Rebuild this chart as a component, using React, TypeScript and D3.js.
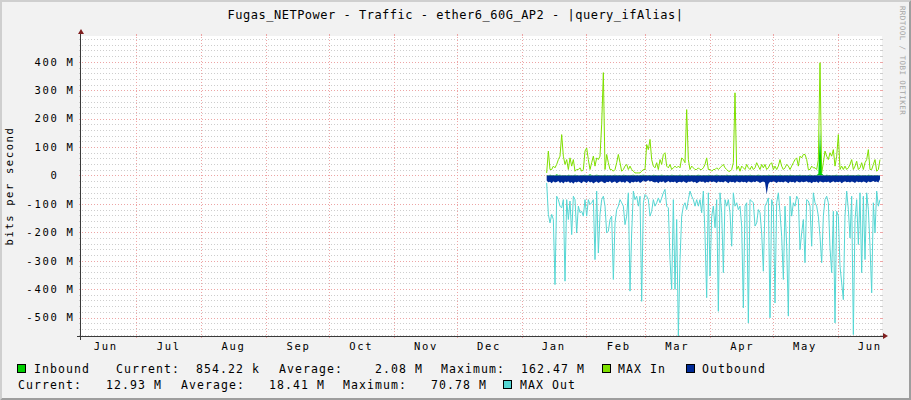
import React from "react";
import * as d3 from "d3";

// ---------------- chart text ----------------
const titleText = "Fugas_NETPower - Traffic - ether6_60G_AP2 - |query_ifAlias|";
const unitLabel = "bits per second";
const watermark = "RRDTOOL / TOBI OETIKER";

// month tick labels (first visible month .. last visible month)
const monthLabels = ["Jun", "Jul", "Aug", "Sep", "Oct", "Nov", "Dec", "Jan", "Feb", "Mar", "Apr", "May", "Jun"];

// y axis ticks (in M bits/s) and their labels
const yTickValues = [400, 300, 200, 100, 0, -100, -200, -300, -400, -500];
const yTickLabels = ["400 M", "300 M", "200 M", "100 M", "0  ", "-100 M", "-200 M", "-300 M", "-400 M", "-500 M"];

// legend rows
const legendRow1 = [
  { swatch: "#00CF00", text: "Inbound" },
  { text: "Current:  854.22 k" },
  { text: "Average:    2.08 M" },
  { text: "Maximum:  162.47 M" },
  { swatch: "#7FE000", text: "MAX In" },
  { swatch: "#002A97", text: "Outbound" },
];
const legendRow2 = [
  { text: "Current:   12.93 M" },
  { text: "Average:   18.41 M" },
  { text: "Maximum:   70.78 M" },
  { swatch: "#55D6D3", text: "MAX Out" },
];

// ---------------- series (M bits/s, evenly sampled) ----------------
const maxIn = [
  9, 86, 21, 21, 33, 27, 39, 56, 68, 144,
  68, 39, 56, 21, 62, 33, 56, 15, 21, 21,
  27, 15, 21, 86, 97, 56, 21, 45, 68, 33,
  62, 56, 68, 180, 362, 21, 74, 45, 21, 21,
  15, 21, 45, 74, 45, 15, 21, 33, 39, 21,
  33, 21, 15, 9, 9, 9, 9, 15, 21, 21,
  109, 91, 127, 56, 33, 27, 45, 21, 56, 39,
  74, 80, 33, 27, 39, 21, 27, 33, 27, 33,
  27, 62, 56, 45, 232, 56, 21, 33, 27, 21,
  21, 27, 21, 21, 27, 39, 62, 21, 21, 15,
  21, 21, 27, 21, 27, 33, 39, 27, 21, 15,
  15,
  21, 45, 291, 21, 33, 15, 33, 27, 21, 39,
  27, 21, 33, 21, 27, 45, 33, 21, 39, 27,
  39, 21, 27, 39, 45, 21, 33, 21, 33, 56,
  33, 21, 27, 39, 33, 21, 33, 45, 56, 62,
  33, 68, 62, 74, 74, 56, 21, 21, 33, 27,
  27, 21, 56, 397, 9, 45, 86, 68, 56, 80,
  68, 91, 33, 68, 144, 21, 33, 21, 33, 21,
  27, 39, 56, 21, 33, 50, 21, 27, 45, 21,
  45, 56, 91, 21, 21, 39, 56, 15, 21, 56,
];

const maxOut = [
  26, 137, 167, 137, 155, 384, 73, 85, 108, 114,
  85, 372, 85, 155, 90, 208, 73, 85, 202, 108,
  131, 126, 143, 85, 143, 85, 102, 96, 85, 296,
  55, 273, 137, 85, 73, 108, 202, 196, 155, 143,
  366, 167, 120, 108, 85, 96, 108, 173, 143, 61,
  407, 202, 55, 85, 73, 108, 73, 443, 96, 67,
  73, 85, 143, 126, 85, 108, 96, 79, 96, 79,
  61, 49, 108, 114, 296, 401, 85, 401, 155, 566,
  296, 143, 108, 96, 120, 85, 55, 73, 85, 108,
  85, 108, 85, 131, 55, 208, 430, 61, 354, 143,
  108, 184, 85, 478, 61, 131, 342, 85, 108, 85,
  131,
  249, 61, 108, 96, 120, 108, 178, 466, 108, 96,
  519, 85, 90, 96, 178, 167, 120, 131, 202, 337,
  108, 96, 79, 501, 85, 108, 449, 96, 61, 131,
  214, 366, 108, 249, 495, 73, 143, 96, 108, 73,
  85, 261, 202, 155, 307, 85, 90, 108, 249, 61,
  96, 108, 143, 214, 307, 143, 85, 73, 96, 255,
  342, 126, 519, 126, 143, 319, 378, 437, 143, 55,
  120, 220, 73, 560, 155, 85, 243, 61, 342, 73,
  296, 61, 120, 249, 413, 96, 202, 55, 108, 85,
];

const outbound = [
  18, 24, 22, 27, 20, 25, 23, 19, 26, 22, 28, 21, 24, 20, 26, 23, 29, 22, 25, 21,
  24, 27, 20, 23, 26, 19, 25, 22, 28, 24, 21, 26, 23, 20, 25, 27, 22, 24, 19, 26,
  23, 21, 27, 24, 20, 25, 22, 26, 19, 23, 28, 22, 25, 21, 24, 20, 26, 23, 18, 22,
  20, 17, 21, 19, 23, 25, 22, 27, 21, 24, 20, 26, 23, 19, 25, 22, 24, 21, 27, 23,
  22, 25, 20, 24, 26, 21, 23, 19, 25, 22, 27, 24, 20, 23, 21, 26, 22, 25, 19, 24,
  21, 23, 26, 20, 24, 22, 25, 19, 23, 27, 21, 24, 22, 26, 20, 23, 25, 21, 24, 22,
  26, 20, 23, 25, 21, 24, 19, 22, 26, 23, 21, 25, 66, 30, 22, 24, 20, 23, 26, 21,
  24, 22, 25, 20, 23, 27, 21, 24, 22, 26, 19, 23, 25, 21, 24, 22, 20, 25, 23, 27,
  22, 24, 21, 26, 20, 23, 25, 22, 24, 21, 26, 23, 20, 25, 22, 24, 21, 27, 23, 20,
  24, 22, 25, 21, 23, 26, 20, 24, 22, 25, 21, 23, 26, 20, 24, 22, 19, 23, 21, 25,
  13,
];

const inbound = [
  2, 1, 3, 2, 2, 1, 4, 2, 3, 1, 2, 2, 1, 3, 2, 1, 2, 3, 2, 1,
  1, 2, 2, 3, 1, 2, 4, 2, 1, 2, 3, 2, 2, 1, 2, 3, 1, 2, 2, 1,
  2, 3, 1, 2, 2, 1, 3, 2, 2, 1, 2, 2, 3, 1, 2, 1, 2, 2, 3, 2,
  1, 2, 2, 1, 3, 2, 2, 1, 2, 3, 2, 1, 2, 2, 1, 3, 2, 2, 1, 2,
  3, 2, 1, 2, 2, 3, 1, 2, 2, 1, 2, 3, 2, 1, 2, 2, 1, 3, 2, 2,
  1, 2, 3, 2, 1, 2, 2, 1, 3, 2, 2, 1, 2, 2, 3, 1, 2, 2, 1, 2,
  2, 1, 3, 2, 2, 1, 2, 3, 2, 1, 2, 2, 1, 3, 2, 2, 1, 2, 2, 1,
  3, 2, 1, 2, 2, 1, 3, 2, 2, 1, 2, 2, 3, 1, 2, 2, 1, 2, 3, 2,
  1, 2, 2, 6, 162, 8, 2, 1, 3, 2, 2, 1, 2, 2, 3, 1, 2, 2, 1, 2,
  2, 3, 1, 2, 2, 1, 2, 3, 2, 1, 2, 2, 1, 3, 2, 2, 1, 2, 2, 1,
  0.85,
];

// time frame of the graph and the sample clock of the series
const VIEW_START = Date.UTC(2014, 5, 4, 12, 30);
const VIEW_DAYS = 382.2;
const DATA_START = Date.UTC(2015, 0, 13, 0, 0);
const SAMPLE_HOURS = 19.11;

// ---------------- layout ----------------
const W = 911;
const H = 400;
const X0 = 81;
const XSIZE = 800;
const Y0 = 336;
const YSIZE = 300;
const FONT = "'DejaVu Sans Mono', monospace";
const C_BACK = "#F2F2F2";
const C_GRID = "#CDCDCD";
const C_MGRID = "#EDA5A5";
const C_ARROW = "#801F1F";
const C_AXIS = "#3A3A3A";

export default function App() {
  const viewEnd = VIEW_START + VIEW_DAYS * 86400000;
  const x = d3.scaleUtc().domain([new Date(VIEW_START), new Date(viewEnd)]).range([X0, X0 + XSIZE]);
  const y = d3.scaleLinear().domain([-565e6, 491e6]).range([Y0, Y0 - YSIZE]);
  const t = (i: number) => new Date(DATA_START + i * SAMPLE_HOURS * 3600000);
  const M = 1e6;

  const lineIn = d3.line<number>().x((_, i) => x(t(i))).y((d) => y(d * M));
  const lineOut = d3.line<number>().x((_, i) => x(t(i))).y((d) => y(-d * M));
  const areaIn = d3.area<number>().x((_, i) => x(t(i))).y0(y(0)).y1((d) => y(d * M));
  const areaOut = d3.area<number>().x((_, i) => x(t(i))).y0(y(0)).y1((d) => y(-d * M));

  const crisp = (v: number) => Math.round(v) + 0.5;

  const minorVals = d3.range(-560, 481, 20).filter((v) => v % 100 !== 0);
  const monthStarts = d3.utcMonth.range(new Date(VIEW_START), new Date(viewEnd));
  const firstMonth = d3.utcMonth.floor(new Date(VIEW_START));
  const labelTimes = monthLabels.map((_, i) => new Date(d3.utcMonth.offset(firstMonth, i).getTime() + 15 * 86400000));

  const top = Y0 - YSIZE;
  const right = X0 + XSIZE;

  const legendText = { fontFamily: FONT, fontSize: 11.5, letterSpacing: 1.08, fill: "#000", whiteSpace: "pre" } as any;
  const row1X = [34, 116, 279, 441, 618, 702];
  const row1Sw = [17.5, null, null, null, 602.5, 686.5];
  const row2X = [18, 181, 343, 520];
  const row2Sw = [null, null, null, 503.5];

  return (
    <svg width={W} height={H} style={{ position: "absolute", left: 0, top: 0 }} xmlns="http://www.w3.org/2000/svg">
      <defs>
        <clipPath id="plot">
          <rect x={X0} y={top} width={XSIZE} height={YSIZE} />
        </clipPath>
      </defs>
      <rect x={0} y={0} width={W} height={H} fill={C_BACK} />
      {/* 3d border */}
      <polygon points={`0,0 ${W},0 ${W - 2},2 2,2 2,${H - 2} 0,${H}`} fill="#CFCFCF" />
      <polygon points={`${W},0 ${W},${H} 0,${H} 2,${H - 2} ${W - 2},${H - 2} ${W - 2},2`} fill="#9E9E9E" />
      {/* canvas */}
      <rect x={X0} y={top} width={XSIZE + 1} height={YSIZE} fill="#FFFFFF" />

      {/* minor horizontal grid */}
      {minorVals.map((v) => {
        const yy = crisp(y(v * M));
        return (
          <g key={"mi" + v}>
            <line x1={X0 - 2} x2={right + 2} y1={yy} y2={yy} stroke={C_GRID} strokeDasharray="1 2" />
            <line x1={X0 - 2} x2={X0} y1={yy} y2={yy} stroke={C_GRID} />
            <line x1={right} x2={right + 2} y1={yy} y2={yy} stroke={C_GRID} />
          </g>
        );
      })}
      {/* major horizontal grid */}
      {yTickValues.map((v) => {
        const yy = crisp(y(v * M));
        return (
          <g key={"ma" + v}>
            <line x1={X0 - 2} x2={right + 2} y1={yy} y2={yy} stroke={C_MGRID} strokeDasharray="1 2" />
            <line x1={X0 - 2} x2={X0} y1={yy} y2={yy} stroke={C_MGRID} />
            <line x1={right} x2={right + 2} y1={yy} y2={yy} stroke={C_MGRID} />
          </g>
        );
      })}
      {/* vertical month grid */}
      {monthStarts.map((m) => {
        const xx = crisp(x(m));
        return (
          <g key={"v" + m.getTime()}>
            <line x1={xx} x2={xx} y1={top - 2} y2={Y0 + 2} stroke={C_MGRID} strokeDasharray="1 2" />
            <line x1={xx} x2={xx} y1={top - 2} y2={top} stroke={C_MGRID} />
            <line x1={xx} x2={xx} y1={Y0} y2={Y0 + 2} stroke={C_MGRID} />
          </g>
        );
      })}

      {/* data */}
      <g clipPath="url(#plot)">
        <path d={lineIn(maxIn) || ""} fill="none" stroke="#7FE000" strokeWidth={1} />
        <path d={areaIn(inbound) || ""} fill="#00CF00" />
        <path d={areaOut(outbound) || ""} fill="#002A97" />
        <path d={lineOut(maxOut) || ""} fill="none" stroke="#55D6D3" strokeWidth={1} />
      </g>

      {/* axes */}
      <line x1={X0 - 0.5} x2={X0 - 0.5} y1={Y0 + 4} y2={top - 4} stroke={C_AXIS} strokeWidth={1} />
      <line x1={X0 - 4} x2={right + 4} y1={Y0 + 0.5} y2={Y0 + 0.5} stroke={C_AXIS} strokeWidth={1} />
      <polygon points={`${right + 2},${Y0 - 3} ${right + 2},${Y0 + 3} ${right + 7},${Y0}`} fill={C_ARROW} />
      <polygon points={`${X0 - 3},${top - 2} ${X0 + 3},${top - 2} ${X0},${top - 7}`} fill={C_ARROW} />

      {/* y labels */}
      {yTickValues.map((v, i) => (
        <text key={"yl" + v} x={74.5} y={y(v * M) + 3.8} textAnchor="end" fontFamily={FONT} fontSize={10.5}
          letterSpacing={1.7} fill="#000" style={{ whiteSpace: "pre" }}>
          {yTickLabels[i]}
        </text>
      ))}
      {/* x labels */}
      {labelTimes.map((d, i) => (
        <text key={"xl" + i} x={x(d) + 0.85} y={350} textAnchor="middle" fontFamily={FONT} fontSize={10.5}
          letterSpacing={1.7} fill="#000">
          {monthLabels[i]}
        </text>
      ))}

      {/* title */}
      <text x={455.5} y={19} textAnchor="middle" fontFamily={FONT} fontSize={12} letterSpacing={0.5} fill="#000">
        {titleText}
      </text>
      {/* unit label */}
      <text transform={`translate(12.5, ${(top + Y0) / 2}) rotate(-90)`} textAnchor="middle" fontFamily={FONT}
        fontSize={10.5} letterSpacing={1.6} fill="#000">
        {unitLabel}
      </text>
      {/* watermark */}
      <text transform={`translate(899.5, 60.5) rotate(90)`} textAnchor="middle" fontFamily={FONT} fontSize={7.5}
        letterSpacing={0.45} fill="#A6A6A6">
        {watermark}
      </text>

      {/* legend */}
      {legendRow1.map((it, i) => (
        <g key={"l1" + i}>
          {it.swatch && row1Sw[i] !== null && (
            <rect x={row1Sw[i] as number} y={364.5} width={8} height={8} fill={it.swatch} stroke="#000" strokeWidth={1} />
          )}
          <text x={row1X[i]} y={373} style={legendText}>{it.text}</text>
        </g>
      ))}
      {legendRow2.map((it, i) => (
        <g key={"l2" + i}>
          {it.swatch && row2Sw[i] !== null && (
            <rect x={row2Sw[i] as number} y={380.5} width={8} height={8} fill={it.swatch} stroke="#000" strokeWidth={1} />
          )}
          <text x={row2X[i]} y={389} style={legendText}>{it.text}</text>
        </g>
      ))}
    </svg>
  );
}
